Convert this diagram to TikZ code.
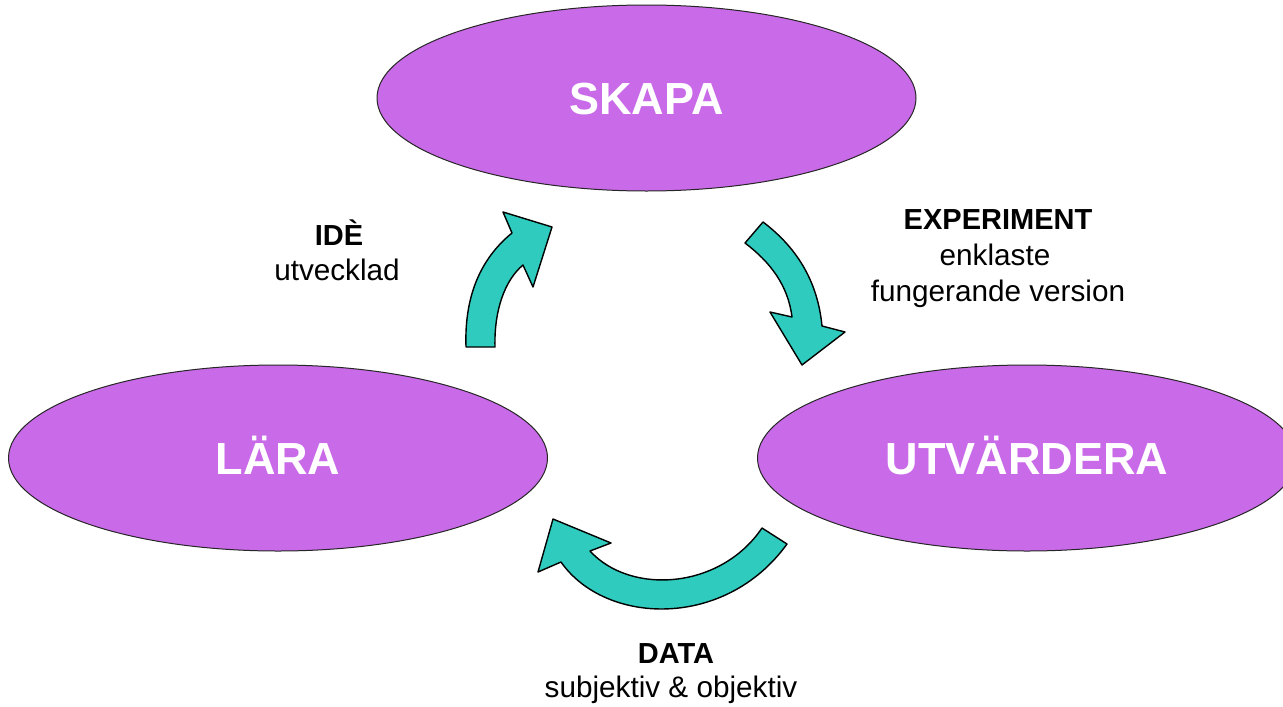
\documentclass[tikz,border=0pt]{standalone}
\usepackage{fontspec}
\setmainfont{Liberation Sans}
\usetikzlibrary{shapes.geometric}
\definecolor{lila}{HTML}{C96AE8}
\definecolor{turkos}{HTML}{2ECBBE}
\begin{document}
\begin{tikzpicture}[x=1pt,y=-1pt,
  phase/.style={ellipse, draw=black!85, line width=1pt, fill=lila, inner sep=0pt,
    minimum width=539pt, minimum height=186pt, text=white,
    font=\fontsize{45}{54}\selectfont\bfseries, text height=32pt, text depth=0pt},
  blockarrow/.style={fill=turkos, draw=black, line width=1.4pt, line join=round},
  headlbl/.style={anchor=base, inner sep=0pt, font=\fontsize{29}{34}\selectfont\bfseries},
  sublbl/.style={anchor=base, inner sep=0pt, font=\fontsize{29.7}{34}\selectfont}]
\path[use as bounding box, fill=white] (0,0) rectangle (1283,707);
\node[phase] (skapa) at (646.5,98) {SKAPA};
\node[phase] (lara) at (278,458) {LÄRA};
\node[phase] (utv) at (1027,458) {UTVÄRDERA};
% arrows
\draw[blockarrow] (466,347) .. controls (464,290) and (485,255) .. (512,233) -- (503,212) -- (552,227) -- (533,287) -- (523,265) .. controls (505,280) and (494,310) .. (495,347) -- cycle;
\draw[blockarrow] (745,243) -- (763,222) .. controls (800,250) and (818,285) .. (822,326) -- (845,332) -- (802,365) -- (770,312) -- (792,317) .. controls (788,285) and (770,262) .. (745,243) -- cycle;
\draw[blockarrow] (762,528) -- (787,544) .. controls (725,630) and (605,625) .. (561,562) -- (538,572) -- (553,519) -- (611,543) -- (590,551) .. controls (630,595) and (720,590) .. (762,528) -- cycle;
% labels
\node[headlbl] (ide) at (339,245) {IDÈ};
\node[sublbl] (ide2) at (337,280) {utvecklad};
\node[headlbl] (exp) at (998,229) {EXPERIMENT};
\node[sublbl] (exp2) at (995,265) {enklaste};
\node[sublbl] (exp3) at (998,301) {fungerande version};
\node[headlbl] (data) at (676,663) {DATA};
\node[sublbl] (data2) at (671,697) {subjektiv \& objektiv};
\end{tikzpicture}
\end{document}
